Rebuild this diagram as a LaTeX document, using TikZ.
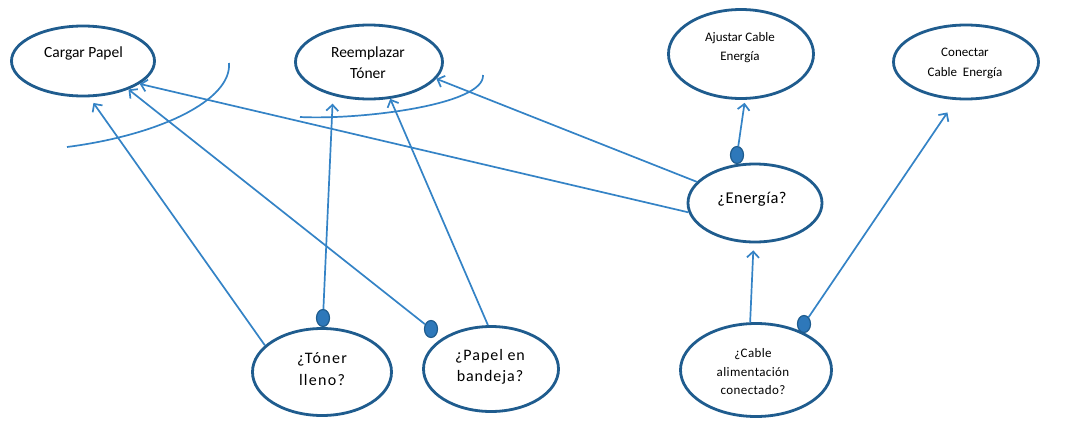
\documentclass[tikz,border=0pt]{standalone}
\usepackage{fontspec}
\setmainfont{Carlito}
\usetikzlibrary{shapes.geometric,arrows.meta}
\definecolor{edgecol}{HTML}{1F5C8E}
\definecolor{conncol}{HTML}{3483C6}
\definecolor{dotcol}{HTML}{2E78BA}
\begin{document}
\begin{tikzpicture}[x=1pt,y=-1pt,
  ell/.style={draw=edgecol, line width=2.8pt, ellipse, inner sep=0pt},
  txt/.style={align=center, inner sep=0pt, text=black},
  connline/.style={draw=conncol, line width=1.7pt},
  arr/.style={connline, -{Straight Barb[length=6pt,width=12pt,line width=1.7pt]}},
  dotn/.style={ellipse, draw=edgecol, fill=dotcol, line width=1.2pt, minimum width=13pt, minimum height=17pt, inner sep=0pt}]
\useasboundingbox (0,0) rectangle (1066,431);
\fill[white] (0,0) rectangle (1066,431);

% ellipses
\node[ell, minimum width=143pt, minimum height=70pt] (cp) at (83,61) {};
\node[ell, minimum width=147pt, minimum height=74pt] (rt) at (369,62) {};
\node[ell, minimum width=145pt, minimum height=89pt] (ac) at (741,54) {};
\node[ell, minimum width=145pt, minimum height=74pt] (cc) at (966,62) {};
\node[ell, minimum width=134pt, minimum height=78pt] (en) at (755,203) {};
\node[ell, minimum width=139pt, minimum height=87pt] (tl) at (322,372) {};
\node[ell, minimum width=135pt, minimum height=85pt] (pb) at (491,369) {};
\node[ell, minimum width=151pt, minimum height=93pt] (ca) at (756,370) {};

% texts
\node[txt, font=\fontsize{15.5}{19}\selectfont] (cpt) at (83.5,53) {Cargar Papel};
\node[txt, font=\fontsize{15.5}{21}\selectfont] (rtt) at (368,63) {Reemplazar\\Tóner};
\node[txt, font=\fontsize{13}{19}\selectfont] (act) at (740,48) {Ajustar Cable\\Energía};
\node[txt, font=\fontsize{13}{20}\selectfont] (cct) at (965,63) {Conectar\\Cable\ \ Energía};
\node[txt, font=\fontsize{16.5}{20}\selectfont\addfontfeature{LetterSpace=3}] (ent) at (752,199) {¿Energía?};
\node[txt, font=\fontsize{16}{22}\selectfont\addfontfeature{LetterSpace=8}] (tlt) at (322,369) {¿Tóner\\lleno?};
\node[txt, font=\fontsize{16}{21}\selectfont\addfontfeature{LetterSpace=6}] (pbt) at (490,367) {¿Papel en\\bandeja?};
\node[txt, font=\fontsize{13}{18.5}\selectfont\addfontfeature{LetterSpace=3}] (cat) at (753,372) {¿Cable\\alimentación\\conectado?};

% dots
\node[dotn] (tld) at (323,318) {};
\node[dotn] (pbd) at (431,329) {};
\node[dotn] (end) at (737,155) {};
\node[dotn] (cad) at (804,324) {};

% connectors
\draw[arr, shorten >=7pt] (tl.155.8) -- (cp.280.3);
\draw[arr] (pbd) -- (cp.328.3);
\draw[arr] (en.188.2) -- (cp.338.2);
\draw[arr, shorten >=8pt] (tld) -- (rt.223.1);
\draw[arr] (pb.94) -- (rt.300.3);
\draw[arr] (en.160.5) -- (rt.346.6);
\draw[arr, shorten >=3pt] (end) -- (ac.275);
\draw[arr, shorten >=7pt] (ca.97) -- (en.268);
\draw[arr, shorten >=15pt] (cad) -- (cc.255.1);

% open arcs
\draw[connline] (67,147) .. controls (160,135) and (232,100) .. (229,63);
\draw[connline] (300,117) .. controls (360,120) and (485,105) .. (483,75);
\end{tikzpicture}
\end{document}
